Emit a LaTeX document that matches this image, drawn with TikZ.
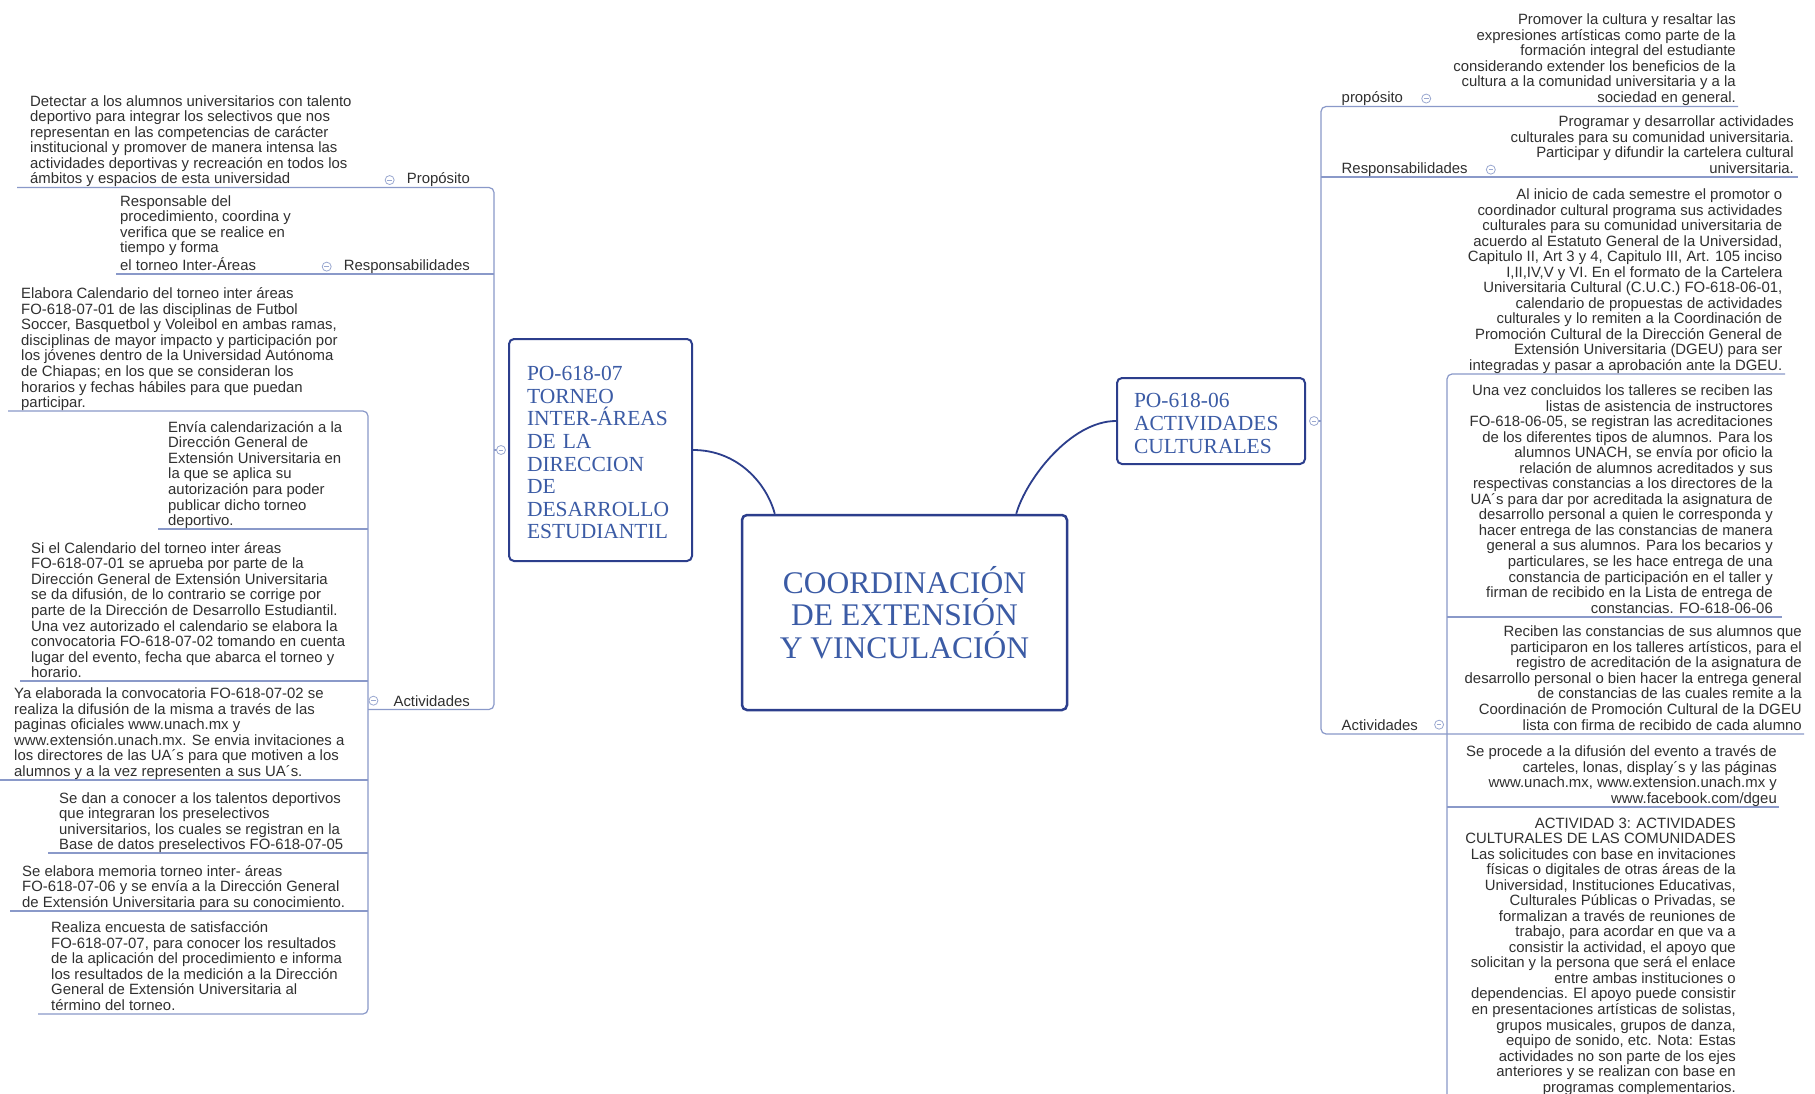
\documentclass[tikz,border=0pt]{standalone}
\usepackage{fontspec}
\newfontfamily\mapsans{Liberation Sans}
\newfontfamily\mapserif{Liberation Serif}
\usetikzlibrary{calc}
\definecolor{linecol}{HTML}{8A99C9}
\definecolor{boxline}{HTML}{2C3E8C}
\definecolor{boxtext}{HTML}{3B5BA5}
\definecolor{bodytext}{HTML}{303030}
\definecolor{togglecol}{HTML}{9AA8D0}
% text blocks: baseline of the box = baseline of last (b) or first (t) line
\newcommand\blockL[1]{\begin{tabular}[b]{@{}l@{}}#1\end{tabular}}
\newcommand\blockR[1]{\begin{tabular}[b]{@{}r@{}}#1\end{tabular}}
\newcommand\blockRt[1]{\begin{tabular}[t]{@{}r@{}}#1\end{tabular}}

\begin{document}
\begin{tikzpicture}[x=1pt,y=-1pt,
  body/.style={inner sep=0pt, text=bodytext, font=\mapsans\fontsize{14.9}{15.5}\selectfont},
  ul/.style={draw=linecol, line width=1.2pt},
  trunk/.style={draw=linecol, line width=1.2pt, rounded corners=5pt},
  toggle/.style={circle, draw=togglecol, fill=white, line width=0.8pt, minimum size=9pt, inner sep=0pt,
    path picture={\draw[togglecol,line width=0.8pt] ([xshift=-2.3pt]path picture bounding box.center) -- ([xshift=2.3pt]path picture bounding box.center);}},
  topic/.style={draw=boxline, line width=2pt, rounded corners=5pt, fill=white, text=boxtext},
  link/.style={draw=boxline, line width=1.8pt},
]
\useasboundingbox (0,0) rectangle (1815,1094);
\fill[white] (0,0) rectangle (1815,1094);

% ---------- central topic and main topics ----------
\node[topic, line width=2.5pt, minimum width=325pt, minimum height=195pt, align=center,
      font=\mapserif\fontsize{31.5}{32.5}\selectfont] (root) at (904.5,612.5)
  {COORDINACIÓN\\DE EXTENSIÓN\\Y VINCULACIÓN};
\node[topic, text width=147pt, inner xsep=18pt, minimum height=222pt, align=left,
      font=\mapserif\fontsize{21.5}{22.6}\selectfont] (lbox) at (600.5,450)
  {\rule{0pt}{20pt}PO-618-07\\TORNEO\\INTER-ÁREAS\\DE LA\\DIRECCION\\DE\\DESARROLLO\\ESTUDIANTIL};
\node[topic, text width=154pt, inner xsep=17pt, minimum height=86pt, align=left,
      font=\mapserif\fontsize{21.5}{23}\selectfont] (rbox) at (1211,421)
  {\rule{0pt}{20pt}PO-618-06\\ACTIVIDADES\\CULTURALES};

\draw[link] (lbox.east) .. controls +(45,0) and +(-8,-30) .. ($(root.north west)+(34,0)$);
\draw[link] (rbox.west) .. controls +(-45,0) and +(10,-35) .. ($(root.north east)+(-52,0)$);

% ---------- trunks ----------
\coordinate (Ltrunk) at (494,0);
\coordinate (Lsub) at (368,0);
\coordinate (Rtrunk) at (1321,0);
\coordinate (Rsub) at (1447,0);
\coordinate (bottom) at (0,1100);

% left underline levels
\coordinate (uPro) at (17,187.5);
\coordinate (uRes) at (116,274);
\coordinate (uAct) at (368,709.5);
\coordinate (uA1) at (8,411);
\coordinate (uA2) at (158,529);
\coordinate (uA3) at (20,681);
\coordinate (uA4) at (0,780);
\coordinate (uA5) at (48,853);
\coordinate (uA6) at (10,911);
\coordinate (uA7) at (38,1014);

% right underline levels
\coordinate (uRpro) at (1738,106.5);
\coordinate (uRres) at (1798,177);
\coordinate (uRact) at (1804,734);
\coordinate (uR1) at (1785,374);
\coordinate (uR2) at (1782,617);
\coordinate (uR4) at (1779,807);

% left branch lines
\draw[trunk] (uPro) -- (uPro -| Ltrunk) -- (Ltrunk |- uAct) -- (uAct);
\draw[ul] (uRes) -- (uRes -| Ltrunk);
\draw[ul] ($(lbox.west)+(-7,0)$) -- (lbox.west -| Ltrunk);
\draw[trunk] (uA1) -- (uA1 -| Lsub) -- (Lsub |- uA7) -- (uA7);
\draw[ul] (uA2) -- (uA2 -| Lsub);
\draw[ul] (uA3) -- (uA3 -| Lsub);
\draw[ul] (uA4) -- (uA4 -| Lsub);
\draw[ul] (uA5) -- (uA5 -| Lsub);
\draw[ul] (uA6) -- (uA6 -| Lsub);

% right branch lines
\draw[trunk] (uRpro) -- (uRpro -| Rtrunk) -- (Rtrunk |- uRact) -- (uRact);
\draw[ul] (uRres -| Rtrunk) -- (uRres);
\draw[ul] ($(rbox.east)+(8,0)$) -- (rbox.east -| Rtrunk);
\draw[trunk] (uR1) -- (uR1 -| Rsub) -- (Rsub |- bottom);
\draw[ul] (uR2 -| Rsub) -- (uR2);
\draw[ul] (uR4 -| Rsub) -- (uR4);

% ---------- left texts ----------
\node[body, anchor=base west] (lp) at (30,184) {\blockL{%
Detectar a los alumnos universitarios con talento\\
deportivo para integrar los selectivos que nos\\
representan en las competencias de carácter\\
institucional y promover de manera intensa las\\
actividades deportivas y recreación en todos los\\
ámbitos y espacios de esta universidad}};
\node[body, anchor=base west] (lr) at (120,270.5) {\blockL{%
Responsable del\\
procedimiento, coordina y\\
verifica que se realice en\\
tiempo y forma\\
el torneo Inter-Áreas}};
\node[body, anchor=base west] (a1) at (21,407.5) {\blockL{%
Elabora Calendario del torneo inter áreas\\
FO-618-07-01 de las disciplinas de Futbol\\
Soccer, Basquetbol y Voleibol en ambas ramas,\\
disciplinas de mayor impacto y participación por\\
los jóvenes dentro de la Universidad Autónoma\\
de Chiapas; en los que se consideran los\\
horarios y fechas hábiles para que puedan\\
participar.}};
\node[body, anchor=base west] (a2) at (168,525.5) {\blockL{%
Envía calendarización a la\\
Dirección General de\\
Extensión Universitaria en\\
la que se aplica su\\
autorización para poder\\
publicar dicho torneo\\
deportivo.}};
\node[body, anchor=base west] (a3) at (31,677.5) {\blockL{%
Si el Calendario del torneo inter áreas\\
FO-618-07-01 se aprueba por parte de la\\
Dirección General de Extensión Universitaria\\
se da difusión, de lo contrario se corrige por\\
parte de la Dirección de Desarrollo Estudiantil.\\
Una vez autorizado el calendario se elabora la\\
convocatoria FO-618-07-02 tomando en cuenta\\
lugar del evento, fecha que abarca el torneo y\\
horario.}};
\node[body, anchor=base west] (a4) at (14,776.5) {\blockL{%
Ya elaborada la convocatoria FO-618-07-02 se\\
realiza la difusión de la misma a través de las\\
paginas oficiales www.unach.mx y\\
www.extensión.unach.mx. Se envia invitaciones a\\
los directores de las UA´s para que motiven a los\\
alumnos y a la vez representen a sus UA´s.}};
\node[body, anchor=base west] (a5) at (59,849.5) {\blockL{%
Se dan a conocer a los talentos deportivos\\
que integraran los preselectivos\\
universitarios, los cuales se registran en la\\
Base de datos preselectivos FO-618-07-05}};
\node[body, anchor=base west] (a6) at (22,907.5) {\blockL{%
Se elabora memoria torneo inter- áreas\\
FO-618-07-06 y se envía a la Dirección General\\
de Extensión Universitaria para su conocimiento.}};
\node[body, anchor=base west] (a7) at (51,1010.5) {\blockL{%
Realiza encuesta de satisfacción\\
FO-618-07-07, para conocer los resultados\\
de la aplicación del procedimiento e informa\\
los resultados de la medición a la Dirección\\
General de Extensión Universitaria al\\
término del torneo.}};

% left branch labels
\node[body, anchor=base east] (lpl) at (470,184) {Propósito};
\node[body, anchor=base east] (lrl) at (470,270.5) {Responsabilidades};
\node[body, anchor=base east] (lal) at (470,706) {Actividades};

% ---------- right texts ----------
\node[body, anchor=base east] (rp) at (1736,102.5) {\blockR{%
Promover la cultura y resaltar las\\
expresiones artísticas como parte de la\\
formación integral del estudiante\\
considerando extender los beneficios de la\\
cultura a la comunidad universitaria y a la\\
sociedad en general.}};
\node[body, anchor=base east] (rr) at (1794,173.5) {\blockR{%
Programar y desarrollar actividades\\
culturales para su comunidad universitaria.\\
Participar y difundir la cartelera cultural\\
universitaria.}};
\node[body, anchor=base east] (ra1) at (1782.5,370.5) {\blockR{%
Al inicio de cada semestre el promotor o\\
coordinador cultural programa sus actividades\\
culturales para su comunidad universitaria de\\
acuerdo al Estatuto General de la Universidad,\\
Capitulo II, Art 3 y 4, Capitulo III, Art. 105 inciso\\
I,II,IV,V y VI. En el formato de la Cartelera\\
Universitaria Cultural (C.U.C.) FO-618-06-01,\\
calendario de propuestas de actividades\\
culturales y lo remiten a la Coordinación de\\
Promoción Cultural de la Dirección General de\\
Extensión Universitaria (DGEU) para ser\\
integradas y pasar a aprobación ante la DGEU.}};
\node[body, anchor=base east] (ra2) at (1773,613) {\blockR{%
Una vez concluidos los talleres se reciben las\\
listas de asistencia de instructores\\
FO-618-06-05, se registran las acreditaciones\\
de los diferentes tipos de alumnos. Para los\\
alumnos UNACH, se envía por oficio la\\
relación de alumnos acreditados y sus\\
respectivas constancias a los directores de la\\
UA´s para dar por acreditada la asignatura de\\
desarrollo personal a quien le corresponda y\\
hacer entrega de las constancias de manera\\
general a sus alumnos. Para los becarios y\\
particulares, se les hace entrega de una\\
constancia de participación en el taller y\\
firman de recibido en la Lista de entrega de\\
constancias. FO-618-06-06}};
\node[body, anchor=base east] (ra3) at (1802,730) {\blockR{%
Reciben las constancias de sus alumnos que\\
participaron en los talleres artísticos, para el\\
registro de acreditación de la asignatura de\\
desarrollo personal o bien hacer la entrega general\\
de constancias de las cuales remite a la\\
Coordinación de Promoción Cultural de la DGEU\\
lista con firma de recibido de cada alumno}};
\node[body, anchor=base east] (ra4) at (1777,803) {\blockR{%
Se procede a la difusión del evento a través de\\
carteles, lonas, display´s y las páginas\\
www.unach.mx, www.extension.unach.mx y\\
www.facebook.com/dgeu}};
\node[body, anchor=base east] (ra5) at (1736,828) {\blockRt{%
ACTIVIDAD 3: ACTIVIDADES\\
CULTURALES DE LAS COMUNIDADES\\
Las solicitudes con base en invitaciones\\
físicas o digitales de otras áreas de la\\
Universidad, Instituciones Educativas,\\
Culturales Públicas o Privadas, se\\
formalizan a través de reuniones de\\
trabajo, para acordar en que va a\\
consistir la actividad, el apoyo que\\
solicitan y la persona que será el enlace\\
entre ambas instituciones o\\
dependencias. El apoyo puede consistir\\
en presentaciones artísticas de solistas,\\
grupos musicales, grupos de danza,\\
equipo de sonido, etc. Nota: Estas\\
actividades no son parte de los ejes\\
anteriores y se realizan con base en\\
programas complementarios.}};

% right branch labels
\node[body, anchor=base west] (rpl) at (1341.5,102.5) {propósito};
\node[body, anchor=base west] (rrl) at (1341.5,173.5) {Responsabilidades};
\node[body, anchor=base west] (ral) at (1341.5,730) {Actividades};

% ---------- collapse toggles ----------
\node[toggle] (tlbox) at ($(lbox.west)+(-7,0)$) {};
\node[toggle] (trbox) at ($(rbox.east)+(8,0)$) {};
\node[toggle] (tlp) at ($(lpl.west)+(-17,0)$) {};
\node[toggle] (tlr) at ($(lrl.west)+(-17,0)$) {};
\node[toggle] (tla) at ($(lal.west)+(-20,0)$) {};
\node[toggle] (trp) at ($(rpl.east)+(23,0)$) {};
\node[toggle] (trr) at ($(rrl.east)+(23,0)$) {};
\node[toggle] (tra) at ($(ral.east)+(21,0)$) {};
\end{tikzpicture}
\end{document}
